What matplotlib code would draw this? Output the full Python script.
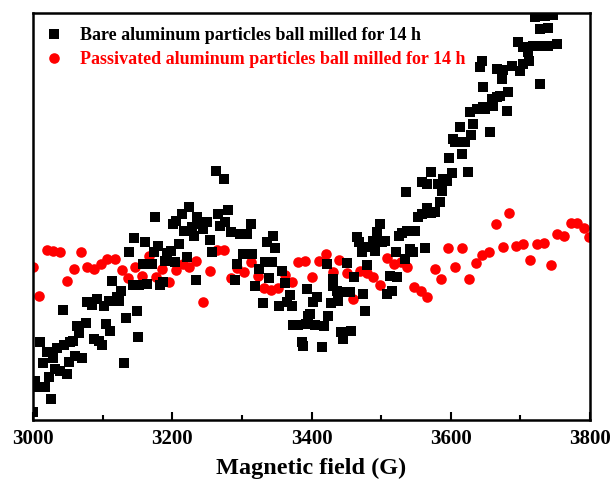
import matplotlib
matplotlib.use("Agg")
import matplotlib.pyplot as plt
from matplotlib.ticker import MultipleLocator, NullLocator

plt.rcParams['font.family'] = ['Liberation Serif', 'DejaVu Serif']
plt.rcParams['font.weight'] = 'bold'

# Bare aluminum (black squares): field (G), intensity (a.u.)
bare_x = [3000, 3003, 3007, 3017, 3010, 3014, 3020, 3026, 3023, 3029, 3032, 3034, 3039, 3043, 3045,
          3049, 3053, 3052, 3057, 3060, 3063, 3066, 3070, 3076, 3078, 3085, 3088, 3092, 3095, 3099,
          3102, 3105, 3111, 3109, 3113, 3121, 3124, 3126, 3131, 3134, 3138, 3144, 3145, 3149, 3151,
          3152, 3158, 3161, 3164, 3171, 3174, 3175, 3180, 3182, 3187, 3190, 3192, 3198, 3201, 3204,
          3205, 3210, 3214, 3217, 3221, 3224, 3228, 3231, 3236, 3234, 3240, 3244, 3250, 3254, 3257,
          3263, 3274, 3266, 3269, 3276, 3280, 3284, 3290, 3293, 3297, 3302, 3307, 3313, 3315, 3319,
          3325, 3330, 3333, 3336, 3339, 3343, 3345, 3348, 3353, 3358, 3362, 3365, 3369, 3372, 3373,
          3381, 3386, 3388, 3394, 3395, 3392, 3398, 3402, 3405, 3408, 3415, 3418, 3422, 3424, 3428,
          3431, 3431, 3437, 3438, 3442, 3445, 3447, 3451, 3455, 3457, 3461, 3465, 3468, 3474, 3472,
          3477, 3480, 3483, 3488, 3491, 3494, 3498, 3501, 3506, 3508, 3513, 3516, 3523, 3521, 3526,
          3530, 3534, 3537, 3541, 3546, 3549, 3553, 3559, 3563, 3566, 3572, 3577, 3585, 3536, 3559,
          3566, 3572, 3582, 3587, 3589, 3595, 3602, 3598, 3603, 3606, 3613, 3616, 3620, 3625, 3629,
          3628, 3632, 3638, 3646, 3646, 3649, 3656, 3659, 3661, 3666, 3671, 3681, 3682, 3642, 3645,
          3666, 3674, 3675, 3688, 3699, 3704, 3712, 3711, 3704, 3697, 3718, 3728, 3740, 3753, 3728,
          3728, 3740, 3721, 3735, 3747]
bare_y = [8, 39, 33, 33, 78, 57, 68, 21, 43, 62, 51, 72, 49, 110, 75,
          46, 78, 58, 79, 64, 94, 87, 62, 97, 118, 115, 81, 121, 79, 75,
          114, 96, 89, 119, 139, 123, 119, 129, 57, 102, 168, 135, 182, 109, 83,
          135, 156, 178, 136, 156, 168, 203, 174, 135, 138, 159, 167, 169, 196, 158,
          199, 176, 206, 189, 163, 213, 193, 184, 203, 140, 196, 191, 198, 180, 168,
          249, 241, 206, 194, 198, 210, 188, 140, 156, 186, 166, 186, 196, 166, 134,
          151, 117, 158, 178, 142, 158, 184, 172, 114, 149, 137, 118, 125, 114, 95,
          95, 78, 74, 131, 104, 96, 106, 118, 95, 123, 73, 94, 156, 104, 117,
          141, 134, 129, 119, 88, 81, 128, 157, 128, 89, 143, 183, 178, 126, 168,
          109, 155, 173, 179, 169, 188, 196, 178, 179, 126, 144, 129, 143, 168, 184,
          187, 161, 189, 171, 168, 189, 203, 206, 172, 212, 207, 208, 218, 228, 238,
          236, 248, 236, 229, 241, 239, 247, 262, 281, 278, 293, 266, 278, 248, 285,
          308, 296, 311, 313, 333, 311, 288, 321, 314, 323, 324, 309, 328, 353, 359,
          351, 341, 350, 354, 349, 356, 359, 368, 373, 378, 374, 374, 374, 376, 336,
          391, 392, 403, 404, 405]

# Passivated aluminum (red circles)
pass_x = [3000, 3009, 3020, 3029, 3039, 3049, 3059, 3069, 3078, 3088, 3098, 3106, 3118, 3128, 3136,
          3147, 3157, 3167, 3177, 3185, 3195, 3205, 3215, 3224, 3234, 3244, 3254, 3264, 3274, 3284,
          3293, 3303, 3313, 3323, 3332, 3342, 3352, 3362, 3372, 3381, 3391, 3401, 3411, 3421, 3431,
          3440, 3451, 3460, 3470, 3480, 3488, 3498, 3508, 3518, 3529, 3537, 3547, 3557, 3566, 3577,
          3586, 3596, 3606, 3616, 3626, 3636, 3645, 3655, 3665, 3675, 3684, 3694, 3704, 3714, 3724,
          3734, 3744, 3753, 3763, 3773, 3781, 3791, 3799]
pass_y = [153, 124, 170, 169, 168, 139, 151, 168, 153, 151, 156, 161, 161, 150, 142,
          153, 144, 164, 143, 151, 138, 150, 156, 153, 159, 118, 149, 170, 170, 142,
          152, 148, 158, 144, 132, 130, 132, 145, 138, 158, 159, 143, 159, 166, 148,
          160, 147, 121, 149, 147, 143, 135, 162, 156, 158, 153, 133, 129, 123, 151,
          141, 172, 153, 172, 141, 157, 165, 168, 196, 173, 207, 174, 176, 160, 176,
          177, 155, 186, 184, 197, 197, 192, 183]

labels = ["Bare aluminum particles ball milled for 14 h",
          "Passivated aluminum particles ball milled for 14 h"]

fig = plt.figure(figsize=(6.14, 4.89), dpi=100)
ax = fig.add_axes([33/614, 68/489, 557/614, 407/489])

ax.scatter(bare_x, bare_y, marker='s', s=42, c='black', linewidths=0, label=labels[0], zorder=3)
ax.scatter(pass_x, pass_y, marker='o', s=58, c='#ff0000', linewidths=0, label=labels[1], zorder=2)

ax.set_xlim(3000, 3800)
ax.set_ylim(0, 407)
ax.xaxis.set_major_locator(MultipleLocator(200))
ax.xaxis.set_minor_locator(MultipleLocator(100))
ax.yaxis.set_major_locator(NullLocator())
ax.tick_params(axis='x', which='both', direction='in', top=False, width=1.5)
ax.tick_params(axis='x', which='major', length=6, labelsize=15, pad=6)
ax.tick_params(axis='x', which='minor', length=3.5)
for lab in ax.get_xticklabels():
    lab.set_fontweight('bold')
for sp in ax.spines.values():
    sp.set_linewidth(1.8)

ax.set_xlabel("Magnetic field (G)", fontsize=17.5, fontweight='bold', labelpad=6)

leg = ax.legend(loc='upper left', bbox_to_anchor=(0, 1 - 3/407), frameon=False,
                handlelength=1.2, handletextpad=0.85,
                borderaxespad=0.15, borderpad=0.4, labelspacing=0.37,
                prop={'weight': 'bold', 'size': 13})
for t, col in zip(leg.get_texts(), ['black', '#ff0000']):
    t.set_color(col)

fig.savefig("out.png", dpi=100)
